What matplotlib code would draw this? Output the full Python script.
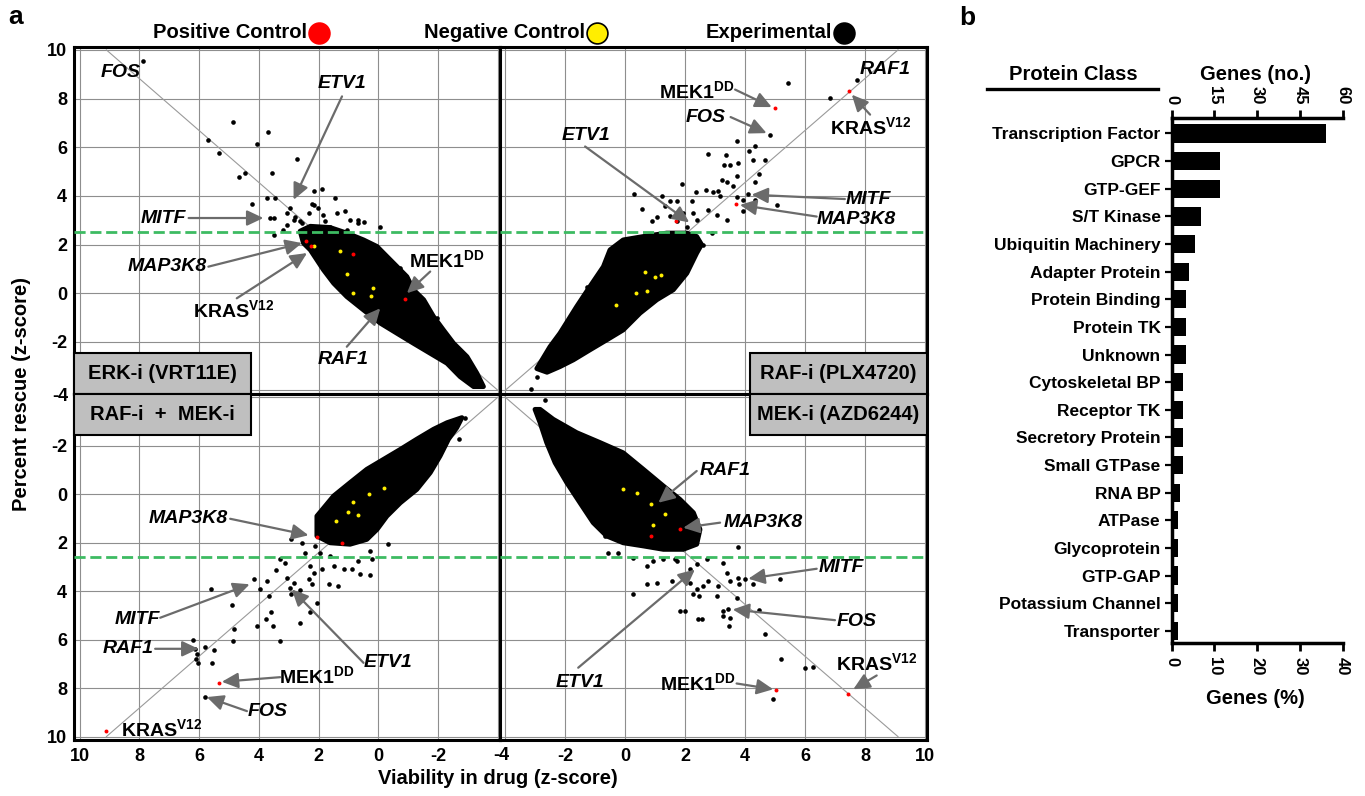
import matplotlib
matplotlib.use('Agg')
import matplotlib.pyplot as plt
from matplotlib.patches import Rectangle, Polygon
from matplotlib.lines import Line2D

plt.rcParams['font.family'] = ['Liberation Sans', 'DejaVu Sans']
plt.rcParams['font.weight'] = 'bold'
plt.rcParams['mathtext.fontset'] = 'custom'
plt.rcParams['mathtext.bf'] = 'Liberation Sans:bold'
plt.rcParams['mathtext.rm'] = 'Liberation Sans:bold'
plt.rcParams['mathtext.it'] = 'Liberation Sans:italic:bold'

# ---------------- DATA (panel a) ----------------
axis_ticks = [-4, -2, 0, 2, 4, 6, 8, 10]
diag_x = [-4, 9.1]
diag_y = [-4, 10]
threshold_top = 2.5
threshold_bottom = 2.6

# dense clouds of experimental genes (outline of solid black region)
tl_cloud_x = [2.62, 2.28, 1.62, 1.06, 0.50, 0.05, -0.28, -0.62, -0.95, -1.17, -1.51, -1.84, -2.17, -2.51, -2.96,
              -3.29, -3.51, -3.18, -2.73, -2.29, -1.73, -1.17, -0.62, -0.06, 0.50, 1.06, 1.50, 1.84, 2.06, 2.28,
              2.51]
tl_cloud_y = [2.55, 2.75, 2.7, 2.47, 2.19, 1.92, 1.51, 1.09, 0.68, 0.14, -0.27, -0.96, -1.51, -2.06, -2.61,
              -3.29, -3.84, -3.84, -3.43, -2.88, -2.47, -2.06, -1.65, -1.23, -0.69, -0.14, 0.41, 0.96, 1.37, 1.78,
              2.06]
tr_cloud_x = [-2.94, -2.5, -2.17, -1.61, -1.17, -0.72, -0.50, -0.06, 0.61, 1.39, 2.06, 2.39, 2.55,
              2.39, 2.06, 1.61, 1.06, 0.50, -0.06, -0.61, -1.17, -1.72, -2.17, -2.6]
tr_cloud_y = [-3.1, -2.2, -1.65, -0.55, 0.27, 1.09, 1.78, 2.19, 2.33, 2.47, 2.47, 2.33, 2.0,
              1.65, 0.82, 0.14, -0.27, -0.82, -1.51, -1.92, -2.33, -2.74, -3.02, -3.25]
bl_cloud_x = [2.06, 1.50, 0.95, 0.39, -0.17, -0.73, -1.28, -1.84, -2.29, -2.79, -2.62, -2.34, -2.06, -1.73,
              -1.28, -0.73, -0.28, 0.05, 0.39, 0.95, 1.62, 2.06]
bl_cloud_y = [0.91, 0.08, -0.47, -1.02, -1.43, -1.84, -2.26, -2.67, -2.94, -3.15, -2.74, -2.26, -1.57, -0.88,
              -0.19, 0.36, 0.91, 1.46, 1.87, 2.07, 2.01, 1.73]
br_cloud_x = [-2.83, -2.39, -1.61, -0.83, -0.06, 0.61, 1.28, 1.83, 2.28, 2.5, 2.39,
              1.94, 1.28, 0.61, -0.06, -0.61, -1.06, -1.5, -1.94, -2.33, -2.61, -2.83, -3.0]
br_cloud_y = [-3.49, -3.08, -2.53, -2.12, -1.70, -1.02, -0.33, 0.22, 0.77, 1.46, 2.07,
              2.28, 2.28, 2.14, 2.01, 1.73, 1.18, 0.36, -0.47, -1.29, -2.12, -2.94, -3.49]

# individual experimental genes outside the dense cloud
tl_pts_x = [7.86, 5.69, 5.35, 4.85, 4.68, 4.48, 4.07, 3.68, 3.57, 2.73, 4.23, 3.73, 3.45, 3.62, 3.51, 3.51, 3.07,
            2.96, 2.17, 1.89, 1.45, 2.23, 1.11, 0.50, 0.67, -0.06, 3.18, 2.84, 2.62, -1.95, -2.90, -3.18, -0.73,
            2.79, 2.56, 2.34, 2.01, 1.78, 1.06, 1.62, 2.17, 1.84, 1.39, 0.95, 0.67, 3.06]
tl_pts_y = [9.56, 6.31, 5.76, 7.02, 4.76, 4.94, 6.14, 6.62, 4.94, 5.51, 3.67, 3.91, 3.91, 3.09, 3.09, 2.40, 3.29,
            3.50, 4.22, 4.28, 3.91, 3.67, 3.36, 2.91, 3.02, 2.74, 2.60, 3.02, 2.95, -1.03, -2.61, -3.23, 1.03,
            3.15, 2.88, 3.29, 3.50, 2.95, 2.60, 2.74, 3.63, 3.22, 3.29, 3.02, 2.88, 2.81]
tr_pts_x = [5.42, 7.72, 6.83, 4.83, 3.74, 4.33, 2.78, 3.36, 4.14, 4.28, 3.31, 3.50, 3.78, 4.67, 3.74, 4.48, 4.33,
            3.24, 3.41, 3.61, 1.89, 2.36, 2.70, 2.92, 3.11, 3.17, 0.30, 2.22, 3.72, 3.94, 4.11, 4.33, 3.94, 5.08,
            1.22, 1.5, 1.72, 1.33, 0.56, 1.06, 1.5, 1.94, 2.28, 2.78, 3.06, 3.41, 2.91, 2.39, 1.72, 0.89, 2.06,
            -0.61, -1.28, -2.83, -2.94, -3.13, 2.61]
tr_pts_y = [8.64, 8.75, 8.01, 6.49, 6.25, 6.03, 5.73, 5.66, 5.83, 5.49, 5.28, 5.25, 5.35, 5.49, 4.80, 4.91, 4.57,
            4.66, 4.59, 4.39, 4.50, 4.18, 4.25, 4.16, 4.22, 3.98, 4.07, 3.80, 3.95, 3.84, 4.07, 3.84, 3.36, 3.61,
            4.00, 3.77, 3.77, 3.57, 3.46, 3.15, 3.18, 3.29, 3.29, 3.40, 3.22, 2.99, 2.47, 3.02, 2.95, 2.95, 2.74,
            1.37, 0.27, -3.02, -3.43, -3.94, 1.99]
bl_pts_x = [-2.90, -2.68, -0.33, 0.28, 0.22, 0.67, 1.17, 0.89, 0.61, 0.30, 1.5, 1.34, 1.67, 1.89, 2.17, 2.34,
            2.23, 2.06, 2.28, 2.62, 2.64, 2.92, 2.95, 2.84, 3.06, 3.12, 3.29, 3.42, 2.93, 2.56, 2.45, 2.12, 1.95,
            1.62, 2.28, 4.18, 3.96, 3.73, 5.61, 4.90, 3.65, 3.59, 3.76, 4.07, 3.53, 4.82, 4.87, 3.31, 6.21, 6.13,
            6.07, 6.10, 6.04, 5.80, 5.49, 5.56, 5.80]
bl_pts_y = [-3.15, -2.26, 2.07, 2.35, 2.69, 2.76, 3.11, 3.11, 3.31, 3.34, 2.97, 3.79, 3.72, 3.11, 3.24, 3.49,
            3.72, 4.48, 4.87, 5.31, 3.96, 4.14, 3.86, 3.66, 3.45, 2.83, 2.69, 3.15, 1.87, 2.01, 2.42, 2.14, 2.42,
            2.56, 2.97, 3.52, 3.90, 3.59, 3.90, 4.59, 4.21, 4.87, 5.14, 5.44, 5.44, 5.58, 6.06, 6.06, 6.03, 6.40,
            6.61, 6.82, 6.98, 6.30, 6.43, 6.96, 8.36]
br_pts_x = [-2.67, -2.78, -1.28, -0.67, -0.56, -0.22, 3.78, 0.28, 0.72, 0.94, 1.28, 1.72, 2.39, 2.72, 3.28, 3.39,
            3.78, 4.0, 4.28, 5.17, 3.81, 3.5, 3.11, 2.78, 2.61, 2.39, 2.17, 2.06, 1.56, 1.06, 0.72, 0.26, 2.28,
            2.48, 3.06, 3.72, 1.83, 2.0, 2.44, 2.55, 3.28, 3.44, 3.28, 3.5, 3.48, 4.48, 4.67, 5.2, 6.0, 6.28, 4.94,
            1.67, 2.17]
br_pts_y = [-3.88, -2.75, 0.63, 1.73, 2.42, 2.42, 2.17, 2.63, 2.97, 2.76, 2.69, 2.76, 2.90, 2.69, 2.83, 3.24,
            3.45, 3.52, 3.72, 3.52, 3.72, 3.59, 3.79, 3.59, 3.79, 3.93, 3.66, 3.45, 3.59, 3.66, 3.72, 4.14, 4.14,
            4.21, 4.21, 4.28, 4.82, 4.82, 5.14, 5.14, 4.82, 4.75, 5.03, 5.10, 5.44, 4.80, 5.79, 6.82, 7.16, 7.12,
            8.47, 2.69, 3.11]

# positive controls (red)
tl_pos_x = [2.43, 2.26, 0.86, -0.87]
tl_pos_y = [2.15, 1.95, 1.62, -0.22]
tr_pos_x = [5.0, 7.46, 3.69, 1.70]
tr_pos_y = [7.60, 8.30, 3.67, 2.95]
bl_pos_x = [9.13, 5.35, 2.04, 1.22]
bl_pos_y = [9.75, 7.78, 1.76, 2.03]
br_pos_x = [1.83, 0.87, 5.03, 7.42]
br_pos_y = [1.43, 1.73, 8.08, 8.23]

# negative controls (yellow)
tl_neg_x = [2.17, 1.28, 1.06, 0.84, 0.25, 0.19]
tl_neg_y = [1.96, 1.75, 0.79, 0.0, -0.10, 0.21]
tr_neg_x = [0.67, 1.0, 1.19, 0.37, 0.72, -0.30]
tr_neg_y = [0.89, 0.68, 0.75, 0.0, 0.09, -0.48]
bl_neg_x = [-0.17, 0.33, 0.86, 1.02, 0.67, 1.42]
bl_neg_y = [-0.26, 0.01, 0.33, 0.73, 0.87, 1.10]
br_neg_x = [-0.08, 0.39, 0.87, 1.33, 0.92]
br_neg_y = [-0.19, -0.03, 0.43, 0.81, 1.29]

quadrant_titles = ['ERK-i (VRT11E)', 'RAF-i (PLX4720)', 'RAF-i  +  MEK-i', 'MEK-i (AZD6244)']

MEK = r'MEK1$^{\mathbf{DD}}$'
KRAS = r'KRAS$^{\mathbf{V12}}$'
# label, italic, label position, arrow tail, arrow tip
tl_notes = [('FOS', True, (8.64, 9.07), None, None),
            ('ETV1', True, (1.22, 8.61), (1.22, 8.09), (2.84, 3.84)),
            ('MITF', True, (7.19, 3.09), (6.35, 3.09), (3.85, 3.09)),
            ('MAP3K8', True, (7.08, 1.09), (5.69, 1.09), (2.56, 2.06)),
            (KRAS, False, (4.85, -0.69), (4.74, -0.21), (2.39, 1.65)),
            (MEK, False, (-2.29, 1.37), (-1.73, 0.89), (-0.95, 0.0)),
            ('RAF1', True, (1.17, -2.74), (1.06, -2.2), (-0.06, -0.62))]
tr_notes = [('RAF1', True, (8.67, 9.19), None, None),
            (MEK, False, (2.39, 8.30), (3.67, 8.37), (4.89, 7.65)),
            ('FOS', True, (2.70, 7.24), (3.52, 7.24), (4.72, 6.58)),
            (KRAS, False, (8.17, 6.83), (8.17, 7.34), (7.56, 8.16)),
            ('ETV1', True, (-1.30, 6.47), (-1.33, 6.03), (2.14, 2.91)),
            ('MITF', True, (8.11, 3.84), (7.33, 3.87), (4.22, 4.05)),
            ('MAP3K8', True, (7.72, 3.02), (6.39, 3.15), (3.83, 3.63))]
bl_notes = [('MAP3K8', True, (6.35, 1.02), (4.96, 1.02), (2.34, 1.70)),
            ('MITF', True, (8.06, 5.17), (7.30, 5.10), (4.31, 3.72)),
            ('RAF1', True, (8.38, 6.38), (7.47, 6.38), (6.02, 6.38)),
            ('ETV1', True, (-0.31, 6.96), (0.50, 6.96), (2.90, 3.93)),
            (MEK, False, (2.06, 7.50), (3.29, 7.55), (5.24, 7.74)),
            ('FOS', True, (3.70, 8.95), (4.40, 8.95), (5.74, 8.37)),
            (KRAS, False, (7.24, 9.68), None, None)]
br_notes = [('RAF1', True, (3.33, -0.95), (2.39, -0.95), (1.11, 0.36)),
            ('MAP3K8', True, (4.61, 1.18), (3.17, 1.18), (1.94, 1.39)),
            ('MITF', True, (7.22, 3.04), (6.39, 3.08), (4.11, 3.49)),
            ('FOS', True, (7.72, 5.24), (7.0, 5.20), (3.59, 4.76)),
            ('ETV1', True, (-1.5, 7.78), (-1.56, 7.16), (2.33, 3.11)),
            (MEK, False, (2.44, 7.78), (3.72, 7.81), (4.94, 8.05)),
            (KRAS, False, (8.39, 6.98), (8.39, 7.48), (7.61, 8.05))]

# ---------------- DATA (panel b) ----------------
protein_classes = ['Transcription Factor', 'GPCR', 'GTP-GEF', 'S/T Kinase', 'Ubiquitin Machinery',
                   'Adapter Protein', 'Protein Binding', 'Protein TK', 'Unknown', 'Cytoskeletal BP',
                   'Receptor TK', 'Secretory Protein', 'Small GTPase', 'RNA BP', 'ATPase', 'Glycoprotein',
                   'GTP-GAP', 'Potassium Channel', 'Transporter']
genes_pct = [36.1, 11.3, 11.3, 6.8, 5.5, 4.0, 3.3, 3.3, 3.3, 2.7, 2.7, 2.7, 2.7, 2.0, 1.4, 1.4, 1.4, 1.4, 1.4]
pct_ticks = [0, 10, 20, 30, 40]
count_ticks = [0, 15, 30, 45, 60]
genes_per_pct = 1.5

# ---------------- FIGURE ----------------
W, H = 1365, 796
fig = plt.figure(figsize=(W / 100, H / 100), dpi=100)


def rect(x0, y0, x1, y1):
    return [x0 / W, 1 - y1 / H, (x1 - x0) / W, (y1 - y0) / H]


def fx(px):
    return px / W


def fy(py):
    return 1 - py / H


GRID = '#8e8e8e'
GREEN = '#3dbb62'
ARROW = '#6b6b6b'

quads = [
    dict(r=(74, 47, 500, 394), xl=(10.184, -4.064), yl=(-4.144, 10.12), lx=False, ly=True, thr=threshold_top,
         cx=tl_cloud_x, cy=tl_cloud_y, px=tl_pts_x, py=tl_pts_y, rx=tl_pos_x, ry=tl_pos_y,
         nx=tl_neg_x, ny=tl_neg_y, notes=tl_notes),
    dict(r=(500, 47, 927, 394), xl=(-4.167, 10.067), yl=(-4.144, 10.12), lx=False, ly=False, thr=threshold_top,
         cx=tr_cloud_x, cy=tr_cloud_y, px=tr_pts_x, py=tr_pts_y, rx=tr_pos_x, ry=tr_pos_y,
         nx=tr_neg_x, ny=tr_neg_y, notes=tr_notes),
    dict(r=(74, 394, 500, 740), xl=(10.184, -4.064), yl=(10.14, -4.124), lx=True, ly=True, thr=threshold_bottom,
         cx=bl_cloud_x, cy=bl_cloud_y, px=bl_pts_x, py=bl_pts_y, rx=bl_pos_x, ry=bl_pos_y,
         nx=bl_neg_x, ny=bl_neg_y, notes=bl_notes),
    dict(r=(500, 394, 927, 740), xl=(-4.167, 10.067), yl=(10.14, -4.124), lx=True, ly=False, thr=threshold_bottom,
         cx=br_cloud_x, cy=br_cloud_y, px=br_pts_x, py=br_pts_y, rx=br_pos_x, ry=br_pos_y,
         nx=br_neg_x, ny=br_neg_y, notes=br_notes),
]

tick_labels = ['' if t == -4 else str(t) for t in axis_ticks]

for q in quads:
    ax = fig.add_axes(rect(*q['r']))
    ax.set_xlim(*q['xl'])
    ax.set_ylim(*q['yl'])
    ax.set_xticks(axis_ticks)
    ax.set_yticks(axis_ticks)
    ax.set_xticklabels(tick_labels, fontsize=13, fontweight='bold')
    ax.set_yticklabels(tick_labels, fontsize=13, fontweight='bold')
    ax.tick_params(length=0, labelbottom=q['lx'], labelleft=q['ly'])
    ax.tick_params(axis='x', pad=6)
    ax.tick_params(axis='y', pad=5)
    ax.grid(True, color=GRID, lw=0.8)
    ax.set_axisbelow(True)
    for s in ax.spines.values():
        s.set_linewidth(2.2)
    ax.plot(diag_x, diag_y, color='#9a9a9a', lw=0.8, zorder=1.5)
    ax.add_patch(Polygon(list(zip(q['cx'], q['cy'])), closed=True, facecolor='black', edgecolor='black',
                         lw=3.5, joinstyle='round', zorder=2))
    ax.scatter(q['px'], q['py'], s=11, c='black', linewidths=0, zorder=2.2)
    ax.axhline(q['thr'], color=GREEN, lw=2, ls=(0, (4, 1.7)), zorder=3)
    ax.scatter(q['nx'], q['ny'], s=8, c='#ffee00', linewidths=0, zorder=4)
    ax.scatter(q['rx'], q['ry'], s=8, c='#ff0000', linewidths=0, zorder=4)
    for label, ital, pos, tail, tip in q['notes']:
        ax.text(pos[0], pos[1], label, ha='center', va='center', fontsize=14, fontweight='bold',
                style='italic' if ital else 'normal', zorder=6)
        if tail is not None:
            ax.annotate('', xy=tip, xytext=tail,
                        arrowprops=dict(arrowstyle='-|>,head_length=0.55,head_width=0.26', color=ARROW,
                                        lw=1.6, shrinkA=0, shrinkB=0, mutation_scale=18), zorder=6)

# quadrant name boxes
boxes = [(74, 353, 251, 394), (750, 353, 927, 394), (74, 394, 251, 435), (750, 394, 927, 435)]
for (x0, y0, x1, y1), title in zip(boxes, quadrant_titles):
    fig.add_artist(Rectangle((fx(x0), fy(y1)), (x1 - x0) / W, (y1 - y0) / H, transform=fig.transFigure,
                             facecolor='#bfbfbf', edgecolor='black', lw=1.5, zorder=5))
    fig.text(fx((x0 + x1) / 2), fy((y0 + y1) / 2), title, ha='center', va='center', fontsize=14.5,
             fontweight='bold', zorder=6)

# center "-4" tick labels
fig.text(fx(68), fy(396), '-4', ha='right', va='center', fontsize=13, fontweight='bold')
fig.text(fx(501), fy(756), '-4', ha='center', va='center', fontsize=13, fontweight='bold')

fig.text(fx(498), fy(778), 'Viability in drug (z-score)', ha='center', va='center', fontsize=14.5,
         fontweight='bold')
fig.text(fx(22), fy(394), 'Percent rescue (z-score)', ha='center', va='center', rotation=90, fontsize=14.5,
         fontweight='bold')

# legend at top
legend_items = [('Positive Control', 319, '#ff0000', '#ff0000'),
                ('Negative Control', 597, '#ffee00', 'black'),
                ('Experimental', 844, 'black', 'black')]
for name, cxp, fc, ec in legend_items:
    fig.text(fx(cxp - 12), fy(33), name, ha='right', va='center', fontsize=14.5, fontweight='bold')
    fig.add_artist(Line2D([fx(cxp)], [fy(33)], marker='o', markersize=15, markerfacecolor=fc,
                          markeredgecolor=ec, markeredgewidth=1.2, transform=fig.transFigure))

fig.text(fx(16), fy(17), 'a', ha='center', va='center', fontsize=19, fontweight='bold')
fig.text(fx(967), fy(18), 'b', ha='center', va='center', fontsize=19, fontweight='bold')

# ---------------- panel b ----------------
axb = fig.add_axes(rect(1171.7, 118.3, 1342.7, 643.3))
ypos = list(range(len(protein_classes)))
axb.barh(ypos, genes_pct, height=0.66, color='black')
axb.set_xlim(0, 40)
axb.set_ylim(len(protein_classes) - 0.55, -0.55)
axb.set_yticks(ypos)
axb.set_yticklabels(protein_classes, fontsize=12.5, fontweight='bold')
axb.set_xticks(pct_ticks)
axb.set_xticklabels([str(t) for t in pct_ticks], rotation=270, fontsize=12, fontweight='bold')
axb.tick_params(axis='y', length=5, width=1.6, pad=3)
axb.tick_params(axis='x', length=6, width=2, pad=4)
axb.spines['right'].set_visible(False)
axb.spines['top'].set_visible(False)
axb.spines['left'].set_linewidth(2.5)
axb.spines['bottom'].set_linewidth(2.5)
sec = axb.secondary_xaxis('top', functions=(lambda p: p * genes_per_pct, lambda g: g / genes_per_pct))
sec.set_xticks(count_ticks)
sec.set_xticklabels([str(t) for t in count_ticks], rotation=270, fontsize=12, fontweight='bold', va='bottom')
sec.tick_params(axis='x', length=6, width=2, pad=4)
sec.spines['top'].set_linewidth(2.5)

fig.text(fx(1255), fy(699), 'Genes (%)', ha='center', va='center', fontsize=14.5, fontweight='bold')
fig.text(fx(1255), fy(75), 'Genes (no.)', ha='center', va='center', fontsize=14.5, fontweight='bold')
fig.text(fx(1073), fy(75), 'Protein Class', ha='center', va='center', fontsize=14.5, fontweight='bold')
fig.add_artist(Line2D([fx(987), fx(1158)], [fy(88.5), fy(88.5)], color='black', lw=2.4,
                      transform=fig.transFigure))

fig.savefig('out.png', dpi=100)
